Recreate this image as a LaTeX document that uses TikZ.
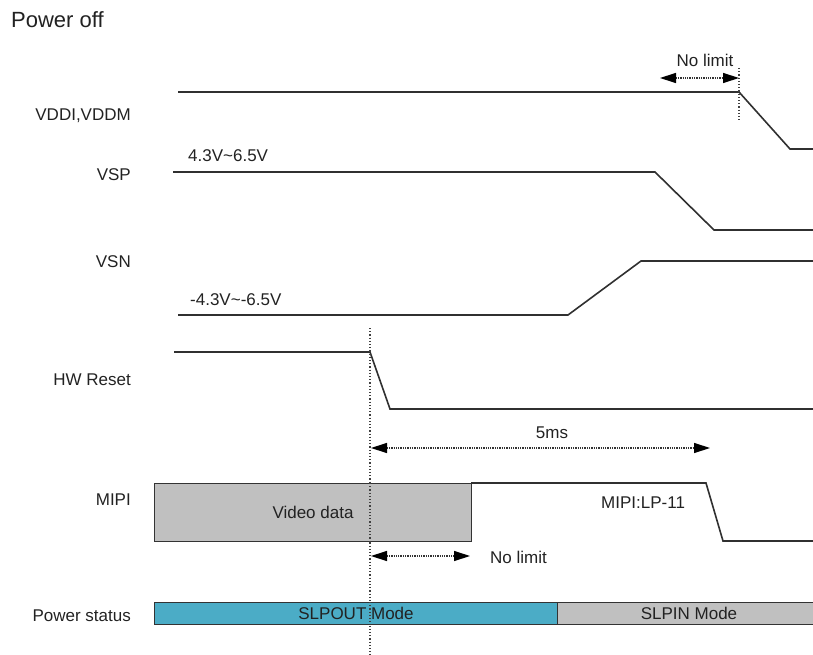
\documentclass[tikz,border=0pt]{standalone}
\usepackage{fontspec}
\setmainfont{Liberation Sans}
\usetikzlibrary{arrows.meta}
\definecolor{slpout}{HTML}{4BACC6}
\definecolor{boxgray}{HTML}{C0C0C0}
\definecolor{sigline}{HTML}{303030}
\definecolor{ink}{HTML}{222222}

\tikzset{
  sig/.style={sigline, line width=1.6pt},
  guide/.style={black!75, dotted, line width=1.2pt},
  span/.style={black!80, densely dotted, line width=1.3pt,
    {Triangle[length=16pt,width=10pt,black]}-{Triangle[length=16pt,width=10pt,black]}},
  lbl/.style={font=\fontsize{17}{19}\selectfont, text=ink, inner sep=0pt},
  modebox/.style={draw=black!80, line width=1pt}
}

\begin{document}
\begin{tikzpicture}[x=1pt, y=-1pt]
  \useasboundingbox (0,0) rectangle (813,655);
  % title
  \node[lbl, font=\fontsize{22}{24}\selectfont, anchor=base west] (title) at (11,28) {Power off};
  % signal names
  \node[lbl, anchor=base east] (nvddi) at (131,121) {VDDI,VDDM};
  \node[lbl, anchor=base east] (nvsp) at (131,180) {VSP};
  \node[lbl, anchor=base east] (nvsn) at (131,267) {VSN};
  \node[lbl, anchor=base east] (nrst) at (131,385) {HW Reset};
  \node[lbl, anchor=base east] (nmipi) at (131,505) {MIPI};
  \node[lbl, anchor=base east] (npwr) at (131,621) {Power status};
  % VDDI,VDDM
  \draw[sig] (178,92) -- (739,92) -- (790,149) -- (813,149);
  \coordinate (vddioff) at (739,92);
  \draw[guide] (739,68) -- (739,122);
  \coordinate (nl1a) at (660,78);
  \draw[span] (nl1a) -- (vddioff |- nl1a);
  \node[lbl, anchor=base] (nolimit1) at (705,67) {No limit};
  % VSP
  \node[lbl, anchor=base west] (vsplvl) at (188,162) {4.3V\textasciitilde6.5V};
  \draw[sig] (173,172) -- (655,172) -- (714,230) -- (813,230);
  % VSN
  \node[lbl, anchor=base west] (vsnlvl) at (190,305) {-4.3V\textasciitilde-6.5V};
  \draw[sig] (178,315) -- (568,315) -- (641,261) -- (813,261);
  % HW reset
  \draw[sig] (174,352) -- (370,352) -- (390,409) -- (813,409);
  \draw[guide] (370,328) -- (370,655);
  % 5ms
  \coordinate (t5a) at (371,448);
  \coordinate (t5b) at (710,448);
  \draw[span] (t5a) -- (t5b);
  \node[lbl, anchor=base] (fivems) at (552,438) {5ms};
  % MIPI
  \draw[modebox, fill=boxgray] (154,483) rectangle (471,541);
  \node[lbl, anchor=base] (video) at (313,518) {Video data};
  \draw[guide] (370,483) -- (370,541);
  \draw[sig] (471,483) -- (706,483) -- (723,541) -- (813,541);
  \node[lbl, anchor=base west] (lp11) at (601,508) {MIPI:LP-11};
  \coordinate (nl2a) at (371,556);
  \coordinate (nl2b) at (470,556);
  \draw[span] (nl2a) -- (nl2b);
  \node[lbl, anchor=base west] (nolimit2) at (490,563) {No limit};
  % power status
  \draw[modebox, fill=slpout] (154,602) rectangle (557,624);
  \draw[modebox, fill=boxgray] (557,602) rectangle (814,624);
  \node[lbl, anchor=base] (slpout) at (356,619) {SLPOUT Mode};
  \node[lbl, anchor=base] (slpin) at (689,619) {SLPIN Mode};
  \draw[guide] (370,602) -- (370,624);
\end{tikzpicture}
\end{document}
